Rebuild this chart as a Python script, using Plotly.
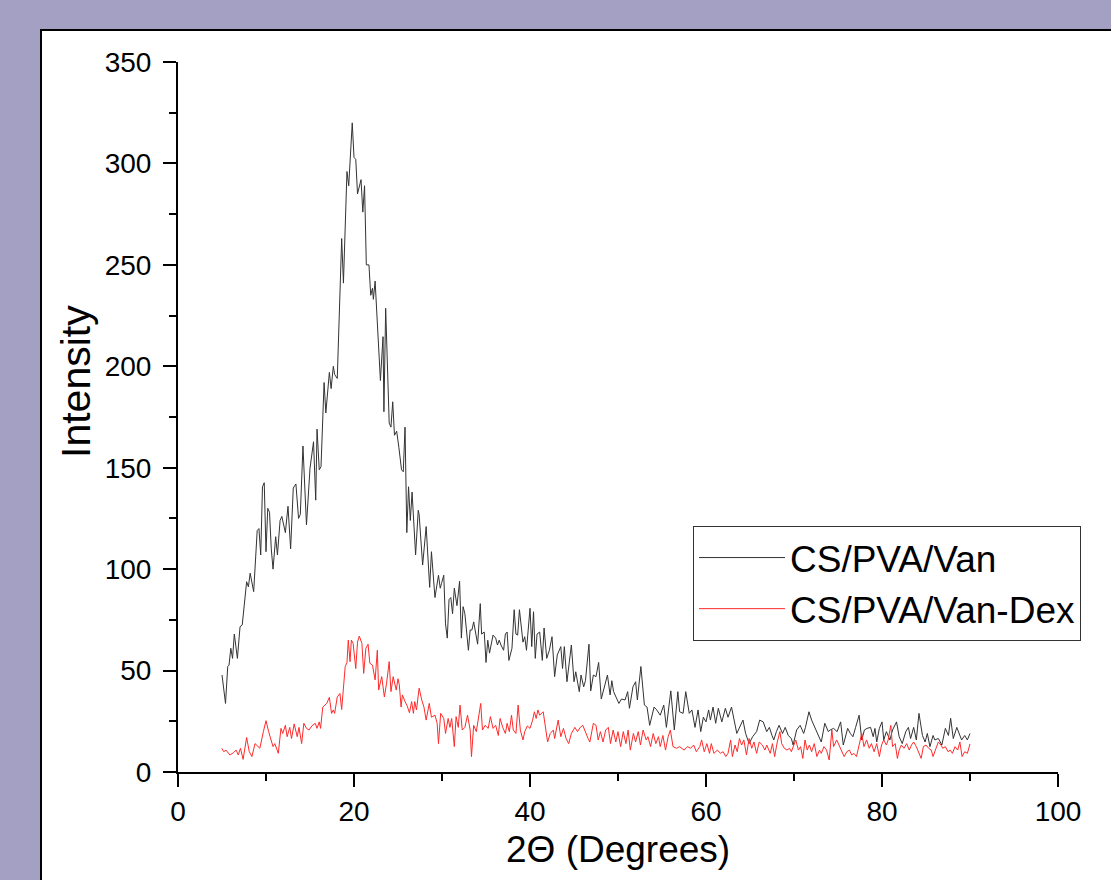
import plotly.graph_objects as go

# ---- data ----
van_theta = [5.0, 5.4, 5.65, 5.8, 6.0, 6.2, 6.4, 6.75, 7.05, 7.3,
             7.8, 8.0, 8.2, 8.6, 9.0, 9.2, 9.4, 9.6, 9.8, 10.0,
             10.2, 10.4, 10.6, 10.8, 11.1, 11.3, 11.6, 11.8, 12.2, 12.5,
             12.8, 13.1, 13.4, 13.7, 13.9, 14.2, 14.6, 15.0, 15.4, 15.65,
             15.8, 16.05, 16.25, 16.6, 16.8, 17.2, 17.4, 17.65, 17.8, 18.1,
             18.6, 18.8, 19.2, 19.4, 19.8, 20.0, 20.2, 20.4, 20.8, 21.0,
             21.2, 21.4, 21.7, 21.9, 22.1, 22.2, 22.4, 22.9, 23.0, 23.3,
             23.4, 23.6, 24.0, 24.2, 24.4, 24.6, 24.85, 25.1, 25.4, 25.6,
             25.8, 26.0, 26.2, 26.4, 26.6, 27.0, 27.3, 27.4, 27.8, 28.2,
             28.6, 28.8, 29.2, 29.6, 29.8, 29.95, 30.2, 30.4, 30.6, 30.8,
             31.0, 31.2, 31.4, 31.7, 32.0, 32.2, 32.4, 32.6, 33.0, 33.2,
             33.4, 33.6, 33.9, 34.05, 34.35, 34.5, 34.8, 35.0, 35.2, 35.4,
             35.8, 36.1, 36.3, 36.5, 36.7, 37.0, 37.2, 37.4, 37.6, 37.95,
             38.2, 38.4, 38.6, 38.8, 39.2, 39.4, 39.6, 40.0, 40.2, 40.4,
             40.6, 40.8, 41.1, 41.4, 41.6, 41.9, 42.2, 42.5, 42.8, 43.1,
             43.5, 43.7, 43.9, 44.2, 44.7, 45.0, 45.2, 45.6, 45.8, 46.1,
             46.3, 46.7, 46.9, 47.2, 47.5, 47.8, 48.1, 48.5, 48.8, 49.1,
             49.3, 49.5, 50.1, 50.4, 50.8, 51.1, 51.3, 51.7, 52.0, 52.2,
             52.6, 53.0, 53.3, 53.6, 54.1, 54.4, 54.8, 55.2, 55.5, 56.0,
             56.4, 56.8, 57.0, 57.4, 57.7, 58.1, 58.4, 58.75, 59.1, 59.4,
             59.7, 60.0, 60.3, 60.5, 60.8, 61.1, 61.4, 61.8, 62.2, 62.5,
             62.9, 63.5, 63.9, 64.2, 64.5, 64.9, 65.3, 65.75, 66.1, 66.5,
             66.9, 67.2, 67.5, 67.7, 68.0, 68.3, 68.7, 69.0, 69.35, 69.7,
             69.9, 70.3, 70.7, 71.1, 71.3, 71.7, 72.0, 72.4, 72.8, 73.1,
             73.5, 73.9, 74.1, 74.5, 74.9, 75.3, 75.6, 76.1, 76.4, 76.7,
             77.0, 77.4, 77.7, 78.0, 78.3, 78.7, 79.0, 79.2, 79.4, 79.7,
             80.0, 80.2, 80.5, 80.9, 81.2, 81.65, 81.95, 82.3, 82.7, 83.0,
             83.25, 83.6, 83.9, 84.2, 84.6, 84.9, 85.15, 85.45, 85.8, 86.0,
             86.4, 86.8, 87.2, 87.55, 87.8, 88.1, 88.5, 88.8, 89.05, 89.4,
             89.7, 90.0]
van_intensity = [47.8, 33.8, 52, 52.7, 61, 56, 68, 56, 71.6, 72.5,
                 93.8, 91.3, 98, 88.9, 119, 120, 107, 140.6, 142.6, 108.6,
                 130, 128, 110, 100, 116, 107, 124, 126, 118, 131,
                 110, 140, 142, 125, 127, 160.7, 121.8, 149.7, 162.8, 134,
                 169, 149, 150.5, 192, 177, 197, 189, 200, 196, 194,
                 263, 241, 296, 289, 320, 303, 302, 285, 292, 276,
                 289, 250, 250, 235, 238.5, 233, 242, 195, 193, 214.6,
                 177.6, 228.6, 172, 170, 182.5, 166, 168, 160, 149, 148,
                 170, 118, 140.6, 124, 138, 107, 129, 127, 102, 121,
                 91, 108.6, 86, 97, 90.6, 93, 97, 73, 66, 85,
                 86, 78, 90.6, 82, 94, 66, 81.5, 78, 60, 70,
                 70, 74, 66.7, 63, 83, 68, 69, 54, 65, 58.6,
                 67.5, 66, 62.6, 65, 62.6, 60, 68, 69, 55, 61,
                 80, 68, 67.5, 80, 64, 66.7, 60, 80.7, 61.8, 79,
                 56, 68, 69, 55, 71, 56, 60, 66.7, 47, 57.7,
                 61.8, 51, 61.8, 44.5, 62.6, 44.5, 49.4, 39.6, 47.8, 42,
                 45, 63, 40, 47.8, 47, 54, 36, 42.9, 47.8, 38,
                 45, 39.6, 33.8, 36, 35.5, 39.6, 31.4, 42, 44.5, 35.5,
                 52, 33, 32, 23, 32, 30.6, 28, 33, 22, 40,
                 20.7, 39.6, 29.7, 28.9, 39.6, 28.9, 30.6, 22, 30.6, 19.9,
                 27, 24.7, 30.6, 25.6, 32, 24, 31.4, 24.7, 31.4, 27,
                 32, 19, 23, 25.6, 19, 14, 17.4, 19.9, 25.6, 24.7,
                 19.9, 22, 18, 15.8, 19.9, 23, 19, 22, 18, 16.5,
                 13.3, 20.7, 23, 19, 22, 29.7, 25.6, 21.5, 17.4, 14.8,
                 24, 19.9, 20.7, 21.5, 19.9, 24.7, 13.3, 21.5, 19, 17.4,
                 22, 28, 15.8, 20.7, 21.5, 22, 17.4, 21.5, 14.8, 21.5,
                 24.7, 15.8, 19.9, 15.8, 20.7, 24.7, 17.4, 14, 19.9, 22,
                 16.5, 22, 15.8, 28.9, 18, 14.8, 19, 12.5, 18, 15.8,
                 16.5, 13.3, 21.5, 18, 26.5, 16.5, 22, 18, 15.8, 18,
                 15.8, 19]

dex_theta = [4.97, 5.2, 5.45, 5.9, 6.3, 6.6, 6.85, 7.1, 7.4, 7.8,
             8.1, 8.4, 8.75, 9.3, 9.7, 10.0, 10.3, 10.8, 11.0, 11.4,
             11.7, 11.9, 12.2, 12.4, 12.7, 12.9, 13.2, 13.55, 13.75, 14.05,
             14.3, 14.6, 14.9, 15.2, 15.6, 15.8, 16.05, 16.2, 16.45, 16.9,
             17.2, 17.45, 17.65, 17.8, 18.1, 18.4, 18.6, 19.0, 19.2, 19.35,
             19.55, 19.7, 19.9, 20.2, 20.4, 20.6, 20.9, 21.1, 21.35, 21.6,
             21.8, 22.1, 22.4, 22.65, 22.8, 23.15, 23.45, 23.7, 24.0, 24.2,
             24.45, 24.8, 25.0, 25.15, 25.35, 25.5, 25.8, 26.05, 26.3, 26.55,
             26.75, 26.9, 27.1, 27.4, 27.7, 27.95, 28.2, 28.55, 28.8, 29.2,
             29.45, 29.6, 29.85, 30.2, 30.4, 30.7, 30.9, 31.1, 31.4, 31.6,
             31.85, 32.05, 32.3, 32.6, 32.9, 33.2, 33.35, 33.6, 33.9, 34.1,
             34.4, 34.6, 34.9, 35.25, 35.5, 35.8, 36.1, 36.4, 36.6, 36.9,
             37.2, 37.4, 37.65, 37.9, 38.1, 38.4, 38.65, 38.9, 39.2, 39.4,
             39.7, 40.0, 40.3, 40.5, 40.7, 40.9, 41.1, 41.5, 42.0, 42.3,
             42.65, 42.8, 43.2, 43.5, 43.8, 44.1, 44.4, 44.7, 45.1, 45.4,
             45.7, 46.0, 46.25, 46.6, 46.8, 47.2, 47.5, 47.75, 48.0, 48.3,
             48.6, 48.9, 49.15, 49.45, 49.75, 50.0, 50.3, 50.6, 50.9, 51.15,
             51.4, 51.75, 52.0, 52.3, 52.55, 52.85, 53.2, 53.4, 53.7, 54.0,
             54.3, 54.6, 54.8, 55.1, 55.4, 55.7, 55.95, 56.25, 56.65, 57.0,
             57.5, 57.9, 58.25, 58.6, 58.9, 59.3, 59.5, 59.8, 60.1, 60.4,
             60.6, 60.9, 61.3, 61.65, 61.95, 62.25, 62.5, 62.8, 63.0, 63.3,
             63.55, 63.8, 64.05, 64.3, 64.6, 64.9, 65.2, 65.45, 65.75, 66.05,
             66.4, 66.7, 66.9, 67.3, 67.55, 67.8, 68.1, 68.4, 68.6, 68.9,
             69.2, 69.5, 69.7, 70.0, 70.2, 70.5, 70.75, 71.0, 71.25, 71.5,
             71.75, 72.0, 72.3, 72.6, 72.9, 73.1, 73.4, 73.7, 74.0, 74.3,
             74.5, 74.85, 75.1, 75.4, 75.7, 76.0, 76.3, 76.55, 76.8, 77.1,
             77.4, 77.7, 77.95, 78.25, 78.55, 78.8, 79.1, 79.4, 79.7, 79.95,
             80.2, 80.5, 80.7, 81.0, 81.2, 81.5, 81.75, 81.95, 82.2, 82.5,
             82.8, 83.1, 83.35, 83.6, 83.9, 84.2, 84.45, 84.7, 85.0, 85.3,
             85.6, 85.8, 86.1, 86.4, 86.7, 86.9, 87.2, 87.5, 87.75, 88.0,
             88.3, 88.6, 88.85, 89.1, 89.4, 89.7, 90.0]
dex_intensity = [11.7, 10, 10.8, 8.4, 9.5, 10.8, 8.4, 11.7, 6.2, 17,
                 10, 7.6, 14, 11.7, 19.9, 25.3, 19.9, 12.5, 14, 9.2,
                 21.5, 19, 23, 17.4, 22, 16.5, 23.7, 17.4, 22, 14,
                 24, 21.5, 20.7, 22.7, 24, 21.5, 24.7, 21.5, 32, 33.8,
                 36.8, 28.9, 30.6, 28.9, 37, 38.7, 30.8, 52, 53.9, 65,
                 54.4, 65, 63.4, 51, 64, 67, 63.4, 48.6, 61, 63,
                 53.6, 52.7, 45.4, 60, 40.4, 47, 37, 43.7, 54.4, 39.6,
                 47, 40.4, 46, 42.9, 32, 38, 34.7, 32.5, 29.2, 34.7,
                 28.9, 34.7, 30.6, 41.3, 35.5, 32, 25.6, 33.8, 27, 28,
                 24, 14, 28.9, 26.4, 19, 26.4, 22, 26.4, 12.5, 27.3,
                 22, 33, 20.7, 22, 28, 20.7, 7.6, 23, 19.9, 26.4,
                 33.8, 20.7, 23, 21.5, 27.3, 21.5, 23, 18, 26.4, 22,
                 19, 24, 19.9, 28, 20.7, 19, 33, 20.7, 15.8, 19.9,
                 22.7, 21.5, 25.6, 29.7, 26.4, 30.6, 28, 29.7, 14.8, 19,
                 20.7, 16.5, 25.6, 17.4, 21.5, 16.5, 14, 19, 22, 19.9,
                 22, 23, 19.9, 16.5, 14.8, 24, 23, 15.8, 19.9, 14.8,
                 20.7, 22, 14, 20.7, 14.8, 19.9, 12.5, 19.9, 14, 20.7,
                 10.8, 19, 14.8, 19.9, 13.3, 20.7, 15.8, 17.4, 12.5, 19,
                 14, 17.4, 12.5, 18, 10.8, 17.4, 20.7, 12.5, 11.7, 12.5,
                 10.8, 12.5, 11.7, 13.3, 10, 12.5, 15.8, 10, 14, 9.2,
                 14, 9.2, 10.8, 9.2, 10, 7.6, 9.2, 15.8, 7.6, 13.3,
                 10, 16.5, 13.3, 15.8, 8.4, 16.5, 11.7, 14.8, 9.2, 14.8,
                 13.3, 10.8, 13.3, 9.2, 14, 7.6, 14.8, 19.9, 14, 11.7,
                 10.8, 11.7, 10, 13.3, 15.8, 10.8, 12.5, 6.7, 15.8, 10.8,
                 13.3, 10, 14, 7.6, 10.8, 9.2, 12.5, 10.8, 5.9, 20.7,
                 12.5, 15.8, 13.3, 10, 7.6, 10, 10.8, 8.4, 9.2, 7.6,
                 14, 19, 12.5, 15.8, 11.7, 14, 10, 14, 7.6, 13.3,
                 15.8, 13.3, 15.8, 23, 12.5, 14, 6.7, 10.8, 13.3, 11.7,
                 14, 10.8, 13.3, 14.8, 12.5, 9.2, 6.7, 12.5, 13.3, 11.7,
                 10.8, 7.6, 10.8, 14.8, 13.3, 11.7, 12.5, 10, 10.8, 9.2,
                 12.5, 10.8, 14.8, 7.6, 10, 9.2, 13.8]

series_names = ["CS/PVA/Van", "CS/PVA/Van-Dex"]
x_ticks = [0, 20, 40, 60, 80, 100]
y_ticks = [0, 50, 100, 150, 200, 250, 300, 350]

FONT = "Liberation Sans, Arial, sans-serif"

fig = go.Figure()
fig.add_trace(go.Scatter(x=van_theta, y=van_intensity, mode="lines",
                         name=series_names[0],
                         line=dict(color="#333333", width=1)))
fig.add_trace(go.Scatter(x=dex_theta, y=dex_intensity, mode="lines",
                         name=series_names[1],
                         line=dict(color="#ff2a2a", width=1)))

W, H = 1111, 880
L, R, T, B = 178, 1058, 62, 772
pw, ph = R - L, B - T


def px_x(p):
    return (p - L) / pw


def px_y(p):
    return (B - p) / ph


# white panel with black frame (extends past right and bottom edges)
fig.add_shape(type="rect", xref="paper", yref="paper",
              x0=px_x(41), x1=px_x(1130), y0=px_y(900), y1=px_y(30),
              fillcolor="white", line=dict(color="black", width=2),
              layer="below")

axis_common = dict(showgrid=False, zeroline=False, showline=True,
                   linecolor="black", linewidth=2, ticks="outside",
                   ticklen=13, tickwidth=2, tickcolor="black",
                   tickfont=dict(family=FONT, size=28, color="black"),
                   mirror=False)

fig.update_xaxes(range=[0, 100], tickvals=x_ticks,
                 minor=dict(dtick=10, ticklen=7, tickwidth=2,
                            tickcolor="black", ticks="outside"),
                 **axis_common)
fig.update_yaxes(range=[0, 350], tickvals=y_ticks,
                 ticklabelstandoff=6,
                 minor=dict(dtick=25, ticklen=7, tickwidth=2,
                            tickcolor="black", ticks="outside"),
                 **axis_common)

fig.add_annotation(text="2Θ (Degrees)", xref="paper", yref="paper",
                   x=px_x(618), y=px_y(849), showarrow=False,
                   xanchor="center", yanchor="middle",
                   font=dict(family=FONT, size=37, color="black"))
fig.add_annotation(text="Intensity", xref="paper", yref="paper",
                   x=px_x(76), y=px_y(382), showarrow=False, textangle=-90,
                   xanchor="center", yanchor="middle",
                   font=dict(family=FONT, size=41, color="black"))

fig.update_layout(
    width=W, height=H,
    margin=dict(l=L, r=W - R, t=T, b=H - B, pad=0),
    paper_bgcolor="#a4a0c4",
    plot_bgcolor="white",
    showlegend=True,
    legend=dict(x=px_x(693), y=px_y(526), xanchor="left", yanchor="top",
                bgcolor="white", bordercolor="#333333", borderwidth=1,
                font=dict(family=FONT, size=37, color="black"),
                itemwidth=86, tracegroupgap=0),
)

fig.write_html("out.html",
               config={"displayModeBar": False},
               post_script="document.body.style.margin='0px';"
                           "document.body.style.background='#a4a0c4';")
